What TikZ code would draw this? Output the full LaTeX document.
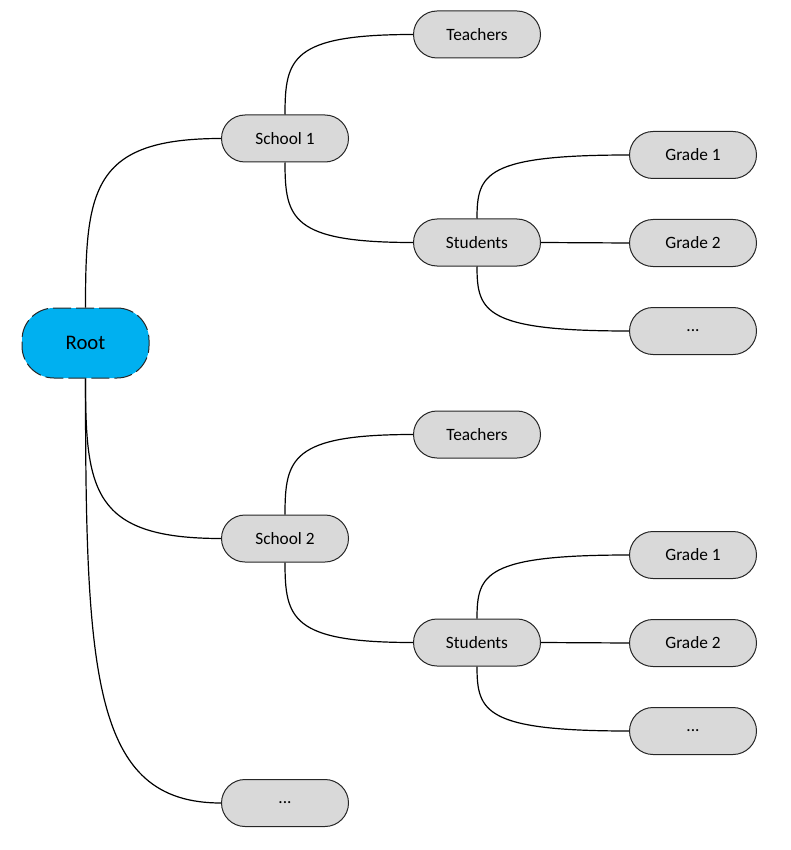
\documentclass[tikz,border=0pt]{standalone}
\usepackage{fontspec}
\setmainfont{Carlito}
\usetikzlibrary{calc}
\definecolor{boxgray}{HTML}{D9D9D9}
\definecolor{rootblue}{HTML}{00B0F0}
\definecolor{edgecol}{HTML}{262626}
\newcommand{\curvelink}[2]{\draw[conn] (#1) .. controls ($(#1 |- #2)!0.3!(#1)$) and ($(#1 |- #2)!0.05!(#2)$) .. (#2);}
\begin{document}
\begin{tikzpicture}[x=1pt,y=-1pt,
  box/.style={draw=edgecol, line width=1pt, fill=boxgray, rounded corners=23.5pt,
    minimum width=127pt, minimum height=47pt, inner sep=0pt,
    font=\fontsize{17.3}{20}\selectfont},
  rootbox/.style={draw=edgecol, line width=1pt, dash pattern=on 18pt off 5pt,
    fill=rootblue, rounded corners=32pt, minimum width=127pt, minimum height=70pt,
    inner sep=0pt, font=\fontsize{20.7}{24}\selectfont},
  conn/.style={draw=black, line width=1.2pt}]
\useasboundingbox (0,0) rectangle (791,850);
\node[rootbox] (root) at (85.5,343) {Root};
\node[box] (s1) at (285,138.5) {School 1};
\node[box] (t1) at (477,34.5) {Teachers};
\node[box] (st1) at (477,242.5) {Students};
\node[box] (g11) at (693,155) {Grade 1};
\node[box] (g12) at (693,243) {Grade 2};
\node[box] (g13) at (693,331) {...};
\node[box] (s2) at (285,538.5) {School 2};
\node[box] (t2) at (477,434.5) {Teachers};
\node[box] (st2) at (477,642.5) {Students};
\node[box] (g21) at (693,555) {Grade 1};
\node[box] (g22) at (693,643) {Grade 2};
\node[box] (g23) at (693,731) {...};
\node[box] (e) at (285,803) {...};
\curvelink{root.north}{s1.west}
\curvelink{root.south}{s2.west}
\curvelink{root.south}{e.west}
\curvelink{s1.north}{t1.west}
\curvelink{s1.south}{st1.west}
\curvelink{st1.north}{g11.west}
\draw[conn] (st1.east) -- (g12.west);
\curvelink{st1.south}{g13.west}
\curvelink{s2.north}{t2.west}
\curvelink{s2.south}{st2.west}
\curvelink{st2.north}{g21.west}
\draw[conn] (st2.east) -- (g22.west);
\curvelink{st2.south}{g23.west}
\end{tikzpicture}
\end{document}
